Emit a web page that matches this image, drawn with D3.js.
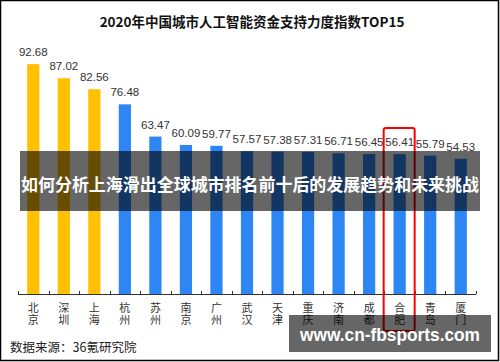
<!DOCTYPE html>
<html>
<head>
<meta charset="utf-8">
<script src="https://cdn.jsdelivr.net/npm/d3@7"></script>
<style>
  html, body { margin: 0; padding: 0; background: #fff; }
  #chart { width: 500px; height: 362px; }
</style>
</head>
<body>
<div id="chart"></div>
<script>
// chart data
const cities = ['北京', '深圳', '上海', '杭州', '苏州', '南京', '广州', '武汉', '天津', '重庆', '济南', '成都', '合肥', '青岛', '厦门'];
const values = [92.68, 87.02, 82.56, 76.48, 63.47, 60.09, 59.77, 57.57, 57.38, 57.31, 56.71, 56.45, 56.41, 55.79, 54.53];
const highlighted = ['北京', '深圳', '上海'];
const marked = '合肥';

const title = '2020年中国城市人工智能资金支持力度指数TOP15';
const source = '数据来源：36氪研究院';
const headline = '如何分析上海滑出全球城市排名前十后的发展趋势和未来挑战';
const watermark = 'www.cn-fbsports.com';

const width = 500;
const height = 362;
const cjk = '"Noto Sans CJK SC", "Microsoft YaHei", sans-serif';
const latin = '"Liberation Sans", Arial, sans-serif';

const svg = d3
  .select('#chart')
  .append('svg')
  .attr('width', width)
  .attr('height', height);

svg.append('rect').attr('width', width).attr('height', height).attr('fill', '#fff');

const x = d3.scaleBand().domain(cities).range([18, 476]).paddingInner(0.6).paddingOuter(0.3);
const y = d3.scaleLinear().domain([0, 100]).range([294, 46]);

svg
  .append('text')
  .attr('x', 252)
  .attr('y', 27)
  .attr('text-anchor', 'middle')
  .style('font-family', cjk)
  .style('font-size', '13.5px')
  .style('font-weight', 'bold')
  .attr('fill', '#111')
  .text(title);

// bars
svg
  .append('g')
  .selectAll('rect')
  .data(cities)
  .join('rect')
  .attr('x', d => x(d))
  .attr('width', x.bandwidth())
  .attr('y', (d, i) => y(values[i]))
  .attr('height', (d, i) => y(0) - y(values[i]))
  .attr('fill', d => (highlighted.includes(d) ? '#FFC000' : '#2E86F5'));

// value labels
svg
  .append('g')
  .selectAll('text')
  .data(cities)
  .join('text')
  .attr('x', d => x(d) + x.bandwidth() / 2)
  .attr('y', (d, i) => y(values[i]) - 8)
  .attr('text-anchor', 'middle')
  .style('font-family', latin)
  .style('font-size', '11.5px')
  .attr('fill', '#333')
  .text((d, i) => values[i].toFixed(2));

// x axis: line plus upward ticks at band edges
const axis = svg.append('g');
axis
  .append('line')
  .attr('x1', 18)
  .attr('x2', 476)
  .attr('y1', y(0) + 0.5)
  .attr('y2', y(0) + 0.5)
  .attr('stroke', '#333');

const edges = d3.range(cities.length + 1).map(i => 18 + i * x.step());
axis
  .selectAll('line.tick')
  .data(edges)
  .join('line')
  .attr('class', 'tick')
  .attr('x1', d => Math.round(d) + 0.5)
  .attr('x2', d => Math.round(d) + 0.5)
  .attr('y1', y(0) - 3)
  .attr('y2', y(0))
  .attr('stroke', '#333');

// vertical city names, one character per line
const chars = cities.flatMap(city => city.split('').map((c, k) => ({ c, k, city })));
axis
  .selectAll('text')
  .data(chars)
  .join('text')
  .attr('x', d => x(d.city) + x.bandwidth() / 2)
  .attr('y', d => 312 + d.k * 12)
  .attr('text-anchor', 'middle')
  .style('font-family', cjk)
  .style('font-size', '11px')
  .attr('fill', '#333')
  .text(d => d.c);

svg
  .append('text')
  .attr('x', 10)
  .attr('y', 352)
  .style('font-family', cjk)
  .style('font-size', '12.5px')
  .attr('fill', '#222')
  .text(source);

// red highlight box
const mx = x(marked) + x.bandwidth() / 2;
svg
  .append('rect')
  .attr('x', mx - 16)
  .attr('y', 128)
  .attr('width', 31)
  .attr('height', 203)
  .attr('rx', 2)
  .attr('fill', 'none')
  .attr('stroke', '#FF0000')
  .attr('stroke-width', 2);

// headline band
svg
  .append('rect')
  .attr('x', 20)
  .attr('y', 151)
  .attr('width', 460)
  .attr('height', 60)
  .attr('fill', 'rgba(0,0,0,0.6)');

svg
  .append('text')
  .attr('x', 250)
  .attr('y', 191)
  .attr('text-anchor', 'middle')
  .style('font-family', cjk)
  .style('font-size', '17.5px')
  .style('font-weight', 'bold')
  .attr('fill', '#fff')
  .attr('textLength', 458)
  .attr('lengthAdjust', 'spacingAndGlyphs')
  .text(headline);

// watermark box
svg
  .append('rect')
  .attr('x', 289)
  .attr('y', 315)
  .attr('width', 202)
  .attr('height', 37)
  .attr('fill', 'rgba(0,0,0,0.6)');

svg
  .append('text')
  .attr('x', 390)
  .attr('y', 341)
  .attr('text-anchor', 'middle')
  .style('font-family', latin)
  .style('font-size', '19px')
  .style('font-weight', 'bold')
  .attr('fill', '#fff')
  .attr('textLength', 180)
  .attr('lengthAdjust', 'spacingAndGlyphs')
  .text(watermark);

// outer frame
svg
  .append('rect')
  .attr('x', 0.5)
  .attr('y', 0.5)
  .attr('width', width - 2)
  .attr('height', height - 2)
  .attr('fill', 'none')
  .attr('stroke', '#000')
  .attr('stroke-width', 1.5);
</script>
</body>
</html>
